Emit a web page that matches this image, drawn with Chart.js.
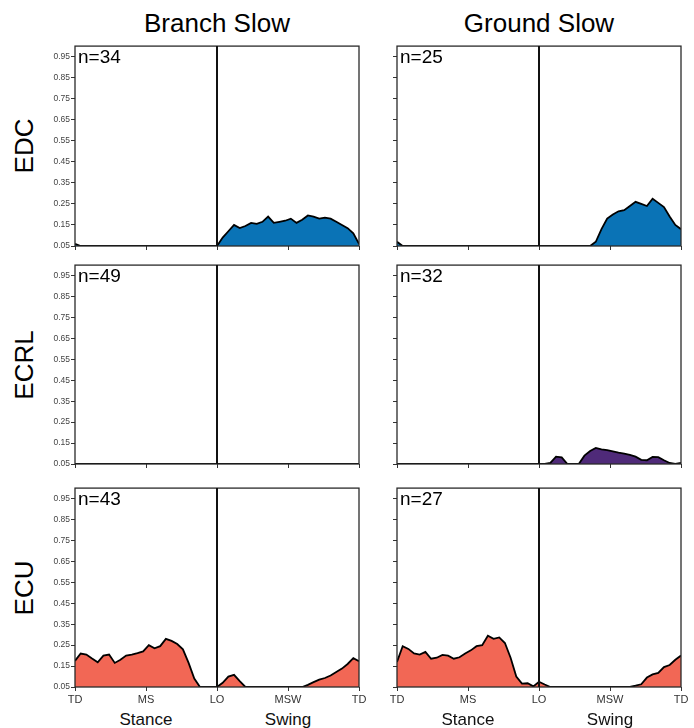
<!DOCTYPE html>
<html>
<head>
<meta charset="utf-8">
<script src="https://cdn.jsdelivr.net/npm/chart.js@4.4.1/dist/chart.umd.min.js"></script>
<style>
  html, body { margin: 0; padding: 0; background: #fff; }
  body { width: 694px; height: 728px; position: relative; overflow: hidden; font-family: "Liberation Sans", Arial, sans-serif; }
  canvas { position: absolute; }
  .txt { position: absolute; white-space: nowrap; color: #000; line-height: 1; }
  .col { font-size: 26px; transform: translateX(-50%); }
  .row { font-size: 26px; transform: translate(-50%, -50%) rotate(-90deg); }
  .phase { font-size: 17px; transform: translateX(-50%); color: #111; }
</style>
</head>
<body>
<script>
// ---- data ----
const columns = ['Branch Slow', 'Ground Slow'];
const muscles = ['EDC', 'ECRL', 'ECU'];
const nBranch = [34, 49, 43];
const nGround = [25, 32, 27];
const phaseLabels = ['Stance', 'Swing'];
const xTickValues = [0, 25, 50, 75, 100];
const xTickLabels = ['TD', 'MS', 'LO', 'MSW', 'TD'];
const yTickValues = [0.05, 0.15, 0.25, 0.35, 0.45, 0.55, 0.65, 0.75, 0.85, 0.95];
const yTickLabels = ['0.05', '0.15', '0.25', '0.35', '0.45', '0.55', '0.65', '0.75', '0.85', '0.95'];
const xPct = [0,2,4,6,8,10,12,14,16,18,20,22,24,26,28,30,32,34,36,38,40,42,44,46,48,50,
              52,54,56,58,60,62,64,66,68,70,72,74,76,78,80,82,84,86,88,90,92,94,96,98,100];

const edcBranch = [0.06,0.05,0.05,0.05,0.05,0.05,0.05,0.05,0.05,0.05,0.05,0.05,0.05,0.05,0.05,0.05,0.05,0.05,0.05,0.05,0.05,0.05,0.05,0.05,0.05,0.05,
                   0.09,0.12,0.15,0.135,0.145,0.16,0.155,0.165,0.19,0.16,0.165,0.17,0.18,0.16,0.175,0.195,0.19,0.18,0.185,0.18,0.165,0.15,0.135,0.11,0.06];
const edcGround = [0.07,0.05,0.05,0.05,0.05,0.05,0.05,0.05,0.05,0.05,0.05,0.05,0.05,0.05,0.05,0.05,0.05,0.05,0.05,0.05,0.05,0.05,0.05,0.05,0.05,0.05,
                   0.05,0.05,0.05,0.05,0.05,0.05,0.05,0.05,0.05,0.07,0.13,0.18,0.2,0.215,0.22,0.24,0.26,0.25,0.24,0.275,0.255,0.235,0.19,0.15,0.13];
const ecrlBranch = [0.05,0.05,0.05,0.05,0.05,0.05,0.05,0.05,0.05,0.05,0.05,0.05,0.05,0.05,0.05,0.05,0.05,0.05,0.05,0.05,0.05,0.05,0.05,0.05,0.05,0.05,
                    0.05,0.05,0.05,0.05,0.05,0.05,0.05,0.05,0.05,0.05,0.05,0.05,0.05,0.05,0.05,0.05,0.05,0.05,0.05,0.05,0.05,0.05,0.05,0.05,0.05];
const ecrlGround = [0.05,0.05,0.05,0.05,0.05,0.05,0.05,0.05,0.05,0.05,0.05,0.05,0.05,0.05,0.05,0.05,0.05,0.05,0.05,0.05,0.05,0.05,0.05,0.05,0.05,0.05,
                    0.05,0.055,0.085,0.082,0.05,0.05,0.05,0.09,0.112,0.127,0.12,0.116,0.11,0.104,0.1,0.094,0.085,0.07,0.068,0.084,0.083,0.068,0.055,0.05,0.055];
const ecuBranch = [0.175,0.21,0.205,0.186,0.168,0.2,0.205,0.165,0.18,0.2,0.205,0.212,0.22,0.25,0.235,0.245,0.28,0.27,0.255,0.23,0.165,0.09,0.05,0.05,0.05,0.05,
                   0.07,0.1,0.108,0.078,0.05,0.05,0.05,0.05,0.05,0.05,0.05,0.05,0.05,0.05,0.05,0.06,0.073,0.085,0.093,0.105,0.122,0.138,0.16,0.188,0.173];
const ecuGround = [0.17,0.245,0.232,0.21,0.205,0.218,0.185,0.19,0.203,0.2,0.185,0.192,0.21,0.225,0.245,0.25,0.295,0.28,0.287,0.26,0.19,0.1,0.066,0.068,0.053,0.075,
                   0.062,0.05,0.05,0.05,0.05,0.05,0.05,0.05,0.05,0.05,0.05,0.05,0.05,0.05,0.05,0.05,0.056,0.063,0.095,0.11,0.117,0.145,0.155,0.18,0.2];

const seriesGrid = [[edcBranch, edcGround], [ecrlBranch, ecrlGround], [ecuBranch, ecuGround]];
const nGrid = [[nBranch[0], nGround[0]], [nBranch[1], nGround[1]], [nBranch[2], nGround[2]]];
const muscleColors = ['#0a73b6', '#4f2a79', '#f26755'];

// ---- layout ----
const colLeft = [75, 397];
const plotW = 284;
const rowTop = [46, 265, 488];
const rowH = [200, 199, 199];
const yAxisW = 35, padTop = 6, padRight = 10;

const framePlugin = {
  id: 'frame',
  afterDatasetsDraw(chart, args, opts) {
    const { ctx, chartArea: a, scales } = chart;
    ctx.save();
    ctx.strokeStyle = '#2a2a2a';
    ctx.lineWidth = 1.3;
    ctx.strokeRect(a.left, a.top, a.right - a.left, a.bottom - a.top);
    const xLO = scales.x.getPixelForValue(xTickValues[2]);
    ctx.strokeStyle = '#111';
    ctx.lineWidth = 2;
    ctx.beginPath(); ctx.moveTo(xLO, a.top); ctx.lineTo(xLO, a.bottom); ctx.stroke();
    ctx.fillStyle = '#000';
    ctx.font = '19px "Liberation Sans", Arial, sans-serif';
    ctx.textBaseline = 'alphabetic';
    ctx.fillText('n=' + opts.n, a.left + 3, a.top + 17);
    ctx.restore();
  }
};

function addText(cls, text, left, top) {
  const d = document.createElement('div');
  d.className = 'txt ' + cls;
  d.textContent = text;
  d.style.left = left + 'px';
  d.style.top = top + 'px';
  document.body.appendChild(d);
}

columns.forEach((c, ci) => addText('col', c, colLeft[ci] + plotW / 2, 10));
muscles.forEach((m, ri) => addText('row', m, 24, rowTop[ri] + rowH[ri] / 2));

for (let r = 0; r < 3; r++) {
  for (let c = 0; c < 2; c++) {
    const bottomRow = r === 2;
    const xAxisH = bottomRow ? 20 : 8;
    const cv = document.createElement('canvas');
    const W = yAxisW + plotW + padRight;
    const H = padTop + rowH[r] + xAxisH;
    cv.width = W; cv.height = H;
    cv.style.width = W + 'px'; cv.style.height = H + 'px';
    cv.style.left = (colLeft[c] - yAxisW) + 'px';
    cv.style.top = (rowTop[r] - padTop) + 'px';
    document.body.appendChild(cv);
    const vals = seriesGrid[r][c];
    new Chart(cv, {
      type: 'line',
      data: {
        datasets: [{
          data: xPct.map((x, i) => ({ x: x, y: vals[i] })),
          borderColor: '#000',
          borderWidth: 1.8,
          backgroundColor: muscleColors[r],
          fill: 'start',
          pointRadius: 0,
          tension: 0
        }]
      },
      options: {
        responsive: false,
        animation: false,
        devicePixelRatio: 1,
        layout: { padding: { top: padTop, right: padRight, left: 0, bottom: 0 } },
        plugins: { legend: { display: false }, tooltip: { enabled: false }, frame: { n: nGrid[r][c] } },
        scales: {
          x: {
            type: 'linear', min: 0, max: 100,
            afterBuildTicks: s => { s.ticks = xTickValues.map(v => ({ value: v })); },
            afterFit: s => { s.height = xAxisH; },
            grid: { drawOnChartArea: false, drawTicks: true, tickLength: 4, color: '#333', lineWidth: 1 },
            border: { display: false },
            ticks: {
              autoSkip: false, maxRotation: 0, padding: 2,
              color: '#333',
              font: { size: 11, family: '"Liberation Sans", Arial, sans-serif' },
              callback: (v, i) => bottomRow ? xTickLabels[i] : ''
            }
          },
          y: {
            type: 'linear', min: 0.05, max: 1.0,
            afterBuildTicks: s => { s.ticks = yTickValues.map(v => ({ value: v })); },
            afterFit: s => { s.width = yAxisW; },
            grid: { drawOnChartArea: false, drawTicks: true, tickLength: 4, color: '#333', lineWidth: 1 },
            border: { display: false },
            ticks: {
              autoSkip: false, padding: 1,
              color: '#444',
              font: { size: 8.5, family: '"Liberation Sans", Arial, sans-serif' },
              callback: (v, i) => c === 0 ? yTickLabels[i] : ''
            }
          }
        }
      },
      plugins: [framePlugin]
    });
  }
}

colLeft.forEach(l => {
  addText('phase', phaseLabels[0], l + plotW * 0.25, 711);
  addText('phase', phaseLabels[1], l + plotW * 0.75, 711);
});
</script>
</body>
</html>
